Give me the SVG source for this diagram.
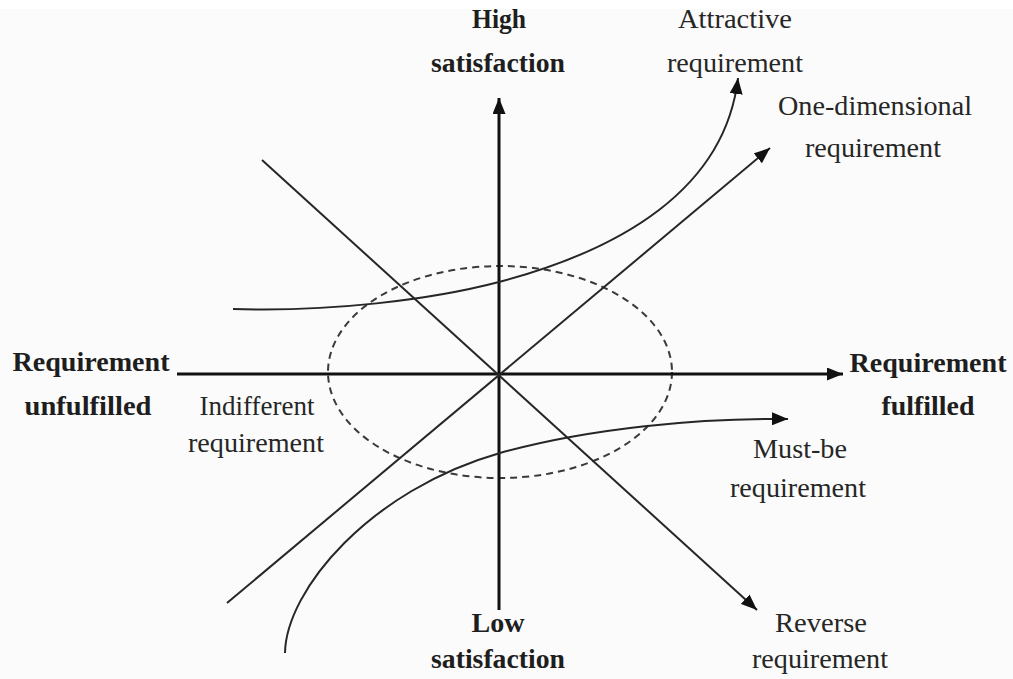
<svg xmlns="http://www.w3.org/2000/svg" width="1013" height="679" viewBox="0 0 1013 679">
  <style>
    .lbl { font-family: "Liberation Serif", "Times New Roman", serif; font-size: 27px; fill: #262626; text-anchor: middle; }
    .bold { font-weight: bold; fill: #1e1e1e; }
    .axis { stroke: #111; stroke-width: 3; fill: none; }
    .line { stroke: #262626; stroke-width: 2; fill: none; }
    .zone { stroke: #3a3a3a; stroke-width: 2; fill: none; stroke-dasharray: 7 5; }
  </style>
  <defs>
    <marker id="arrow" markerUnits="userSpaceOnUse" markerWidth="17" markerHeight="13" refX="16" refY="6.5" orient="auto">
      <path d="M0,0 L16,6.5 L0,13 z" fill="#111"/>
    </marker>
  </defs>

  <rect x="0" y="0" width="1013" height="679" fill="#fbfbfb"/>
  <rect x="0" y="0" width="1013" height="9" fill="#ffffff"/>

  <!-- indifference zone around the origin -->
  <ellipse id="indifferent-zone" class="zone" cx="500" cy="372" rx="172" ry="106"/>

  <g id="connectors">
    <!-- satisfaction axis (vertical) and fulfilment axis (horizontal) -->
    <line class="axis" x1="499" y1="610" x2="499" y2="98" marker-end="url(#arrow)"/>
    <line class="axis" x1="177" y1="374" x2="843" y2="374" marker-end="url(#arrow)"/>
    <!-- reverse requirement -->
    <line class="line" x1="262" y1="160" x2="757" y2="610" marker-end="url(#arrow)"/>
    <!-- one-dimensional requirement -->
    <line class="line" x1="227" y1="603" x2="770" y2="148" marker-end="url(#arrow)"/>
    <!-- attractive requirement -->
    <path class="line" d="M233,309 C330,312 430,300 499,282 C620,250 725,190 738,78" marker-end="url(#arrow)"/>
    <!-- must-be requirement -->
    <path class="line" d="M285,653 C286,590 370,490 500,453 C590,428 700,418 788,419" marker-end="url(#arrow)"/>
  </g>

  <g id="high-satisfaction">
    <text class="lbl bold" x="499" y="28" textLength="54" lengthAdjust="spacingAndGlyphs">High</text>
    <text class="lbl bold" x="498" y="72" textLength="134" lengthAdjust="spacingAndGlyphs">satisfaction</text>
  </g>
  <g id="low-satisfaction">
    <text class="lbl bold" x="498" y="632" textLength="53" lengthAdjust="spacingAndGlyphs">Low</text>
    <text class="lbl bold" x="498" y="668" textLength="134" lengthAdjust="spacingAndGlyphs">satisfaction</text>
  </g>
  <g id="requirement-unfulfilled">
    <text class="lbl bold" x="91" y="371" textLength="157" lengthAdjust="spacingAndGlyphs">Requirement</text>
    <text class="lbl bold" x="88" y="415" textLength="127" lengthAdjust="spacingAndGlyphs">unfulfilled</text>
  </g>
  <g id="requirement-fulfilled">
    <text class="lbl bold" x="928" y="372" textLength="157" lengthAdjust="spacingAndGlyphs">Requirement</text>
    <text class="lbl bold" x="928" y="415" textLength="93" lengthAdjust="spacingAndGlyphs">fulfilled</text>
  </g>
  <g id="attractive-requirement">
    <text class="lbl" x="735" y="28" textLength="114" lengthAdjust="spacingAndGlyphs">Attractive</text>
    <text class="lbl" x="735" y="72" textLength="136" lengthAdjust="spacingAndGlyphs">requirement</text>
  </g>
  <g id="one-dimensional-requirement">
    <text class="lbl" x="875" y="115" textLength="194" lengthAdjust="spacingAndGlyphs">One-dimensional</text>
    <text class="lbl" x="873" y="157" textLength="136" lengthAdjust="spacingAndGlyphs">requirement</text>
  </g>
  <g id="indifferent-requirement">
    <text class="lbl" x="257" y="415" textLength="115" lengthAdjust="spacingAndGlyphs">Indifferent</text>
    <text class="lbl" x="256" y="452" textLength="136" lengthAdjust="spacingAndGlyphs">requirement</text>
  </g>
  <g id="must-be-requirement">
    <text class="lbl" x="800" y="458" textLength="94" lengthAdjust="spacingAndGlyphs">Must-be</text>
    <text class="lbl" x="798" y="497" textLength="136" lengthAdjust="spacingAndGlyphs">requirement</text>
  </g>
  <g id="reverse-requirement">
    <text class="lbl" x="821" y="632" textLength="92" lengthAdjust="spacingAndGlyphs">Reverse</text>
    <text class="lbl" x="820" y="668" textLength="136" lengthAdjust="spacingAndGlyphs">requirement</text>
  </g>
</svg>
